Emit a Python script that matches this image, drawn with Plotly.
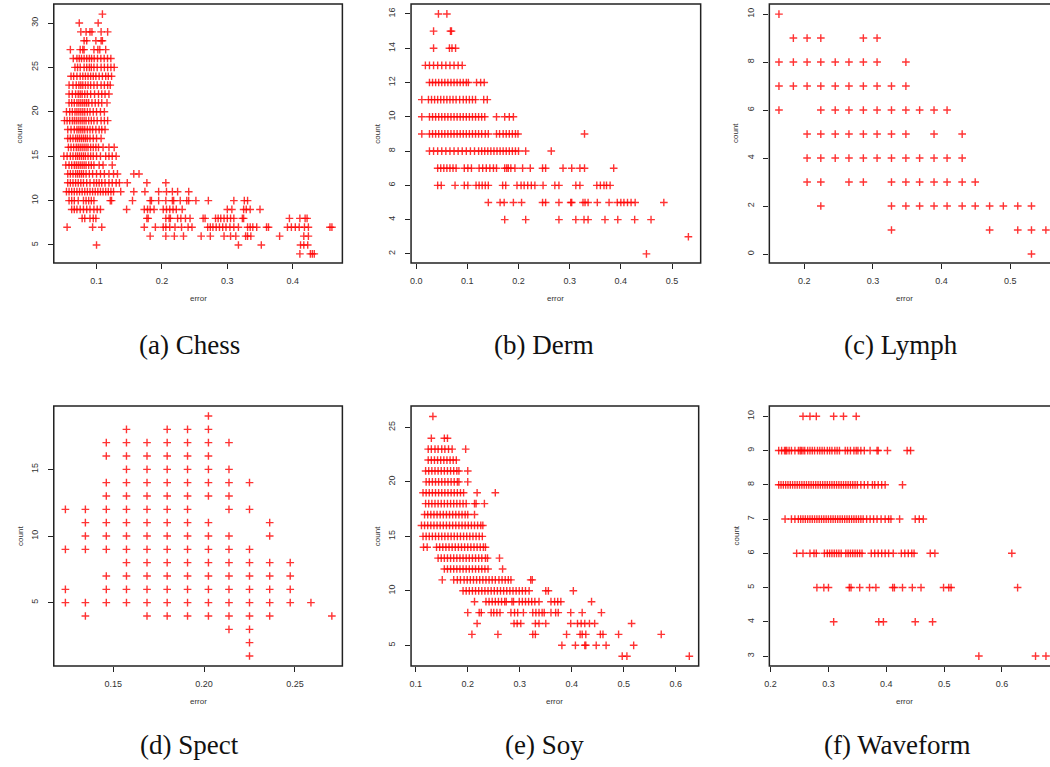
import plotly.graph_objects as go

W, H = 1050, 767

# ---------------- data ----------------
# (a) Chess: count -> list of error values
chess_rows = {
    31: [0.109],
    30: [0.0736, 0.1025],
    29: [0.076, 0.084, 0.090, 0.093, 0.107, 0.117],
    28: [0.081, 0.085, 0.099, 0.107, 0.109],
    27: [0.060, 0.075, 0.079, 0.081, 0.096, 0.102, 0.105, 0.114],
    26: [0.0644, 0.070, 0.0736, 0.077, 0.081, 0.085, 0.089, 0.0924, 0.0964, 0.1015, 0.1066, 0.1117, 0.1168, 0.1219],
    25: [0.067, 0.071, 0.075, 0.081, 0.085, 0.089, 0.092, 0.096, 0.101, 0.107, 0.112, 0.117, 0.122, 0.127],
    24: [0.061, 0.065, 0.070, 0.075, 0.079, 0.083, 0.087, 0.091, 0.095, 0.099, 0.104, 0.109, 0.114, 0.118, 0.123],
    23: [0.058, 0.064, 0.069, 0.073, 0.076, 0.079, 0.083, 0.087, 0.091, 0.096, 0.101, 0.107, 0.112, 0.117, 0.121],
    22: [0.058, 0.063, 0.068, 0.072, 0.075, 0.078, 0.082, 0.086, 0.091, 0.097, 0.103, 0.108, 0.113, 0.119],
    21: [0.058, 0.062, 0.066, 0.070, 0.073, 0.076, 0.079, 0.082, 0.085, 0.088, 0.093, 0.098, 0.103, 0.108, 0.116],
    20: [0.054, 0.059, 0.063, 0.067, 0.070, 0.073, 0.076, 0.079, 0.082, 0.086, 0.090, 0.095, 0.100, 0.106, 0.112],
    19: [0.051, 0.055, 0.059, 0.063, 0.066, 0.069, 0.072, 0.075, 0.078, 0.081, 0.084, 0.088, 0.092, 0.096, 0.101, 0.107, 0.112, 0.117],
    18: [0.056, 0.061, 0.066, 0.070, 0.073, 0.076, 0.079, 0.082, 0.086, 0.090, 0.094, 0.099, 0.104, 0.108, 0.113],
    17: [0.056, 0.060, 0.064, 0.068, 0.071, 0.074, 0.077, 0.080, 0.083, 0.086, 0.090, 0.095, 0.100, 0.107],
    16: [0.057, 0.061, 0.065, 0.069, 0.072, 0.075, 0.078, 0.081, 0.084, 0.087, 0.091, 0.095, 0.099, 0.103, 0.110, 0.119, 0.127],
    15: [0.050, 0.055, 0.060, 0.064, 0.068, 0.071, 0.074, 0.077, 0.080, 0.083, 0.087, 0.091, 0.095, 0.100, 0.106, 0.114, 0.119, 0.124, 0.130],
    14: [0.053, 0.058, 0.062, 0.066, 0.069, 0.072, 0.075, 0.078, 0.081, 0.084, 0.088, 0.092, 0.096, 0.104, 0.110, 0.124],
    13: [0.056, 0.060, 0.064, 0.068, 0.071, 0.074, 0.077, 0.080, 0.084, 0.089, 0.094, 0.100, 0.106, 0.112, 0.119, 0.126, 0.132, 0.157, 0.165],
    12: [0.056, 0.060, 0.064, 0.068, 0.072, 0.076, 0.080, 0.085, 0.090, 0.096, 0.100, 0.104, 0.108, 0.113, 0.119, 0.124, 0.130, 0.135, 0.147, 0.177, 0.206],
    11: [0.054, 0.058, 0.062, 0.066, 0.070, 0.074, 0.078, 0.082, 0.086, 0.090, 0.094, 0.098, 0.102, 0.106, 0.110, 0.114, 0.118, 0.122, 0.126, 0.137,
         0.157, 0.174, 0.195, 0.207, 0.216, 0.224, 0.241],
    10: [0.058, 0.062, 0.066, 0.072, 0.080, 0.084, 0.088, 0.092, 0.096, 0.121, 0.123, 0.155, 0.182, 0.184, 0.195, 0.206, 0.216, 0.218,
         0.228, 0.238, 0.241, 0.252, 0.271, 0.310, 0.326, 0.331],
    9: [0.062, 0.066, 0.070, 0.075, 0.080, 0.085, 0.090, 0.096, 0.101, 0.106, 0.146, 0.173, 0.178, 0.182, 0.188, 0.202, 0.207, 0.212,
        0.217, 0.222, 0.231, 0.300, 0.307, 0.325, 0.329, 0.335, 0.350],
    8: [0.078, 0.082, 0.090, 0.095, 0.099, 0.177, 0.179, 0.206, 0.211, 0.213, 0.224, 0.229, 0.236, 0.243, 0.263, 0.266, 0.282, 0.286,
        0.290, 0.295, 0.300, 0.305, 0.310, 0.323, 0.325, 0.395, 0.411, 0.419, 0.422],
    7: [0.055, 0.094, 0.108, 0.173, 0.190, 0.202, 0.206, 0.212, 0.220, 0.230, 0.240, 0.246, 0.270, 0.274, 0.278, 0.283, 0.288, 0.293,
        0.298, 0.304, 0.310, 0.317, 0.331, 0.335, 0.339, 0.345, 0.360, 0.363, 0.392, 0.398, 0.404, 0.410, 0.418, 0.424, 0.457, 0.460],
    6: [0.182, 0.206, 0.219, 0.233, 0.260, 0.274, 0.295, 0.305, 0.313, 0.328, 0.331, 0.336, 0.380, 0.417, 0.424],
    5: [0.100, 0.317, 0.352, 0.412, 0.417, 0.423],
    4: [0.411, 0.427, 0.430, 0.433],
}

# (b) Derm
derm_rows = {
    16: [0.0435, 0.060],
    15: [0.034, 0.067, 0.069],
    14: [0.034, 0.065, 0.070, 0.077],
    13: [0.018, 0.026, 0.034, 0.042, 0.050, 0.058, 0.066, 0.074, 0.082, 0.090],
    12: [0.026, 0.032, 0.038, 0.044, 0.050, 0.056, 0.062, 0.068, 0.074, 0.080, 0.086, 0.092, 0.098, 0.102, 0.118, 0.126, 0.133],
    11: [0.011, 0.024, 0.030, 0.036, 0.042, 0.048, 0.054, 0.060, 0.066, 0.072, 0.078, 0.085, 0.092, 0.098, 0.104, 0.110, 0.116, 0.132, 0.139],
    10: [0.011, 0.026, 0.032, 0.038, 0.044, 0.050, 0.056, 0.062, 0.068, 0.074, 0.080, 0.086, 0.092, 0.098, 0.104, 0.110, 0.116, 0.122,
         0.128, 0.134, 0.157, 0.173, 0.182, 0.190],
    9: [0.011, 0.026, 0.032, 0.038, 0.044, 0.050, 0.056, 0.062, 0.068, 0.074, 0.080, 0.086, 0.092, 0.098, 0.104, 0.110, 0.116, 0.122,
        0.128, 0.135, 0.141, 0.157, 0.163, 0.170, 0.176, 0.182, 0.188, 0.194, 0.199, 0.329],
    8: [0.026, 0.034, 0.042, 0.050, 0.058, 0.066, 0.074, 0.082, 0.090, 0.098, 0.106, 0.114, 0.122, 0.128, 0.134, 0.140, 0.146, 0.152,
        0.158, 0.164, 0.170, 0.176, 0.182, 0.188, 0.194, 0.200, 0.214, 0.264],
    7: [0.042, 0.048, 0.054, 0.060, 0.066, 0.072, 0.078, 0.094, 0.101, 0.108, 0.123, 0.130, 0.137, 0.144, 0.151, 0.157, 0.173, 0.177,
        0.180, 0.185, 0.193, 0.208, 0.223, 0.247, 0.253, 0.287, 0.304, 0.320, 0.329, 0.386],
    6: [0.042, 0.049, 0.076, 0.094, 0.101, 0.117, 0.123, 0.129, 0.135, 0.141, 0.169, 0.175, 0.197, 0.205, 0.211, 0.218, 0.225, 0.232,
        0.248, 0.271, 0.279, 0.312, 0.320, 0.353, 0.360, 0.367, 0.372, 0.379],
    5: [0.141, 0.164, 0.172, 0.190, 0.206, 0.247, 0.253, 0.279, 0.302, 0.304, 0.326, 0.330, 0.336, 0.354, 0.377, 0.393, 0.400, 0.406,
        0.413, 0.420, 0.428, 0.484],
    4: [0.173, 0.214, 0.279, 0.312, 0.328, 0.336, 0.369, 0.394, 0.427, 0.459],
    3: [0.532],
    2: [0.450],
}

# (c) Lymph
lymph_rows = {
    10: [0.163],
    9: [0.184, 0.204, 0.224, 0.286, 0.306],
    8: [0.163, 0.184, 0.204, 0.224, 0.245, 0.265, 0.286, 0.306, 0.348],
    7: [0.163, 0.184, 0.204, 0.224, 0.245, 0.265, 0.286, 0.306, 0.327, 0.348],
    6: [0.163, 0.224, 0.245, 0.265, 0.286, 0.306, 0.327, 0.348, 0.368, 0.389, 0.408],
    5: [0.204, 0.224, 0.245, 0.265, 0.286, 0.306, 0.327, 0.348, 0.389, 0.430],
    4: [0.204, 0.224, 0.245, 0.265, 0.286, 0.306, 0.327, 0.348, 0.368, 0.389, 0.408, 0.430],
    3: [0.204, 0.224, 0.265, 0.286, 0.327, 0.348, 0.368, 0.389, 0.408, 0.430, 0.449],
    2: [0.224, 0.327, 0.348, 0.368, 0.389, 0.408, 0.430, 0.449, 0.470, 0.490, 0.511, 0.531],
    1: [0.327, 0.470, 0.511, 0.531, 0.552],
    0: [0.531],
}

# (d) Spect: error value -> list of counts
spect_cols = {
    0.1237: [12, 9, 6, 5],
    0.1347: [12, 11, 10, 9, 5, 4],
    0.1462: [17, 16, 14, 13, 12, 11, 10, 9, 7, 6, 5],
    0.1573: [18, 17, 16, 15, 14, 13, 12, 11, 10, 9, 8, 7, 6, 5],
    0.1686: [17, 16, 15, 14, 13, 12, 11, 10, 9, 8, 7, 6, 5, 4],
    0.1797: [18, 17, 16, 15, 14, 13, 12, 11, 10, 9, 8, 7, 6, 5, 4],
    0.1909: [18, 17, 16, 15, 14, 13, 12, 11, 10, 9, 8, 7, 6, 5, 4],
    0.2024: [19, 18, 17, 16, 15, 14, 13, 11, 10, 9, 8, 7, 6, 5, 4],
    0.2137: [17, 15, 14, 13, 12, 10, 9, 8, 7, 6, 5, 4, 3],
    0.2250: [14, 12, 9, 8, 7, 6, 5, 4, 3, 2, 1],
    0.2361: [11, 10, 8, 7, 6, 5, 4],
    0.2474: [8, 7, 6, 5],
    0.2588: [5],
    0.2703: [4],
}

# (e) Soy
soy_rows = {
    26: [0.133],
    24: [0.130, 0.155, 0.161],
    23: [0.124, 0.130, 0.137, 0.143, 0.150, 0.156, 0.163, 0.170, 0.196],
    22: [0.124, 0.130, 0.136, 0.142, 0.148, 0.154, 0.160, 0.166, 0.172, 0.178],
    21: [0.119, 0.125, 0.131, 0.137, 0.143, 0.149, 0.155, 0.161, 0.167, 0.173, 0.179, 0.183, 0.200],
    20: [0.120, 0.126, 0.132, 0.138, 0.144, 0.150, 0.156, 0.162, 0.168, 0.174, 0.180, 0.183, 0.200],
    19: [0.114, 0.120, 0.126, 0.132, 0.138, 0.144, 0.150, 0.156, 0.162, 0.168, 0.174, 0.180, 0.186, 0.192, 0.218, 0.253],
    18: [0.119, 0.125, 0.131, 0.137, 0.143, 0.149, 0.155, 0.161, 0.167, 0.173, 0.179, 0.185, 0.191, 0.197, 0.213, 0.216, 0.232],
    17: [0.117, 0.123, 0.129, 0.135, 0.141, 0.147, 0.153, 0.159, 0.165, 0.171, 0.177, 0.183, 0.189, 0.195, 0.200, 0.213],
    16: [0.111, 0.117, 0.123, 0.129, 0.135, 0.141, 0.147, 0.153, 0.159, 0.165, 0.171, 0.177, 0.183, 0.189, 0.195, 0.201, 0.207, 0.213,
         0.219, 0.225, 0.229],
    15: [0.114, 0.120, 0.126, 0.132, 0.138, 0.144, 0.150, 0.156, 0.162, 0.168, 0.174, 0.180, 0.186, 0.192, 0.198, 0.204, 0.210, 0.216,
         0.222, 0.228],
    14: [0.115, 0.122, 0.140, 0.146, 0.152, 0.158, 0.164, 0.170, 0.176, 0.182, 0.188, 0.194, 0.200, 0.206, 0.212, 0.218, 0.224, 0.230, 0.234],
    13: [0.143, 0.149, 0.155, 0.161, 0.167, 0.173, 0.179, 0.185, 0.191, 0.197, 0.203, 0.209, 0.215, 0.221, 0.227, 0.234, 0.238, 0.261],
    12: [0.155, 0.161, 0.167, 0.173, 0.179, 0.185, 0.191, 0.197, 0.203, 0.209, 0.215, 0.221, 0.227, 0.233, 0.239, 0.267],
    11: [0.151, 0.173, 0.180, 0.186, 0.193, 0.199, 0.205, 0.211, 0.217, 0.223, 0.229, 0.235, 0.241, 0.247, 0.253, 0.260, 0.266, 0.272,
         0.278, 0.283, 0.321, 0.324],
    10: [0.191, 0.197, 0.203, 0.209, 0.215, 0.221, 0.227, 0.233, 0.239, 0.245, 0.251, 0.257, 0.263, 0.269, 0.275, 0.281, 0.287, 0.293,
         0.299, 0.305, 0.311, 0.318, 0.350, 0.355, 0.403],
    9: [0.213, 0.235, 0.241, 0.247, 0.253, 0.259, 0.265, 0.271, 0.274, 0.285, 0.288, 0.299, 0.305, 0.311, 0.317, 0.323, 0.329, 0.337,
        0.360, 0.367, 0.373, 0.379, 0.438],
    8: [0.200, 0.222, 0.226, 0.245, 0.250, 0.256, 0.262, 0.283, 0.290, 0.296, 0.307, 0.325, 0.331, 0.337, 0.343, 0.347, 0.360, 0.369,
        0.374, 0.398, 0.420, 0.457],
    7: [0.218, 0.289, 0.295, 0.302, 0.330, 0.337, 0.350, 0.398, 0.411, 0.418, 0.425, 0.434, 0.444, 0.515],
    6: [0.208, 0.258, 0.325, 0.330, 0.390, 0.416, 0.420, 0.427, 0.455, 0.460, 0.490, 0.572],
    5: [0.381, 0.407, 0.425, 0.427, 0.447, 0.466, 0.519],
    4: [0.497, 0.506, 0.626],
}

# (f) Waveform
wave_rows = {
    10: [0.256, 0.268, 0.279, 0.309, 0.326, 0.348],
    9: [0.214, 0.219, 0.224, 0.226, 0.228, 0.232, 0.236, 0.242, 0.248, 0.251, 0.253, 0.256, 0.259, 0.264, 0.268, 0.272, 0.276, 0.281,
        0.285, 0.289, 0.293, 0.298, 0.302, 0.306, 0.311, 0.315, 0.319, 0.329, 0.333, 0.338, 0.344, 0.348, 0.351, 0.356, 0.362, 0.372,
        0.384, 0.386, 0.402, 0.436, 0.442],
    8: [0.214, 0.218, 0.222, 0.226, 0.230, 0.234, 0.238, 0.242, 0.246, 0.250, 0.254, 0.258, 0.262, 0.266, 0.270, 0.274, 0.278, 0.282,
        0.286, 0.290, 0.294, 0.298, 0.302, 0.306, 0.310, 0.314, 0.318, 0.322, 0.326, 0.330, 0.334, 0.338, 0.342, 0.346, 0.350, 0.356,
        0.362, 0.368, 0.376, 0.380, 0.386, 0.392, 0.398, 0.428],
    7: [0.225, 0.236, 0.242, 0.248, 0.252, 0.256, 0.260, 0.264, 0.268, 0.272, 0.276, 0.280, 0.284, 0.288, 0.292, 0.296, 0.300, 0.304,
        0.308, 0.312, 0.316, 0.320, 0.324, 0.328, 0.332, 0.336, 0.340, 0.344, 0.348, 0.352, 0.356, 0.360, 0.366, 0.372, 0.378, 0.384,
        0.391, 0.398, 0.404, 0.408, 0.423, 0.450, 0.457, 0.464],
    6: [0.245, 0.256, 0.268, 0.275, 0.279, 0.293, 0.298, 0.302, 0.306, 0.310, 0.314, 0.318, 0.322, 0.330, 0.334, 0.338, 0.342, 0.346,
        0.350, 0.354, 0.358, 0.374, 0.380, 0.386, 0.392, 0.398, 0.404, 0.412, 0.426, 0.432, 0.438, 0.444, 0.448, 0.476, 0.484, 0.617],
    5: [0.280, 0.292, 0.300, 0.336, 0.339, 0.354, 0.371, 0.382, 0.411, 0.414, 0.428, 0.445, 0.460, 0.499, 0.508, 0.512, 0.627],
    4: [0.309, 0.387, 0.395, 0.450, 0.480],
    3: [0.560, 0.658, 0.676],
}

captions = ["(a) Chess", "(b) Derm", "(c) Lymph", "(d) Spect", "(e) Soy", "(f) Waveform"]

# tick values / labels
x_ticks = [
    ([0.1, 0.2, 0.3, 0.4], ["0.1", "0.2", "0.3", "0.4"]),
    ([0.0, 0.1, 0.2, 0.3, 0.4, 0.5], ["0.0", "0.1", "0.2", "0.3", "0.4", "0.5"]),
    ([0.2, 0.3, 0.4, 0.5], ["0.2", "0.3", "0.4", "0.5"]),
    ([0.15, 0.20, 0.25], ["0.15", "0.20", "0.25"]),
    ([0.1, 0.2, 0.3, 0.4, 0.5, 0.6], ["0.1", "0.2", "0.3", "0.4", "0.5", "0.6"]),
    ([0.2, 0.3, 0.4, 0.5, 0.6], ["0.2", "0.3", "0.4", "0.5", "0.6"]),
]
y_ticks = [
    [5, 10, 15, 20, 25, 30],
    [2, 4, 6, 8, 10, 12, 14, 16],
    [0, 2, 4, 6, 8, 10],
    [5, 10, 15],
    [5, 10, 15, 20, 25],
    [3, 4, 5, 6, 7, 8, 9, 10],
]

# ---------------- layout geometry (pixels) ----------------
boxes = [  # left, right, top, bottom
    (49, 339, 4, 263),
    (408, 699, 4, 263),
    (768, 1050, 4, 263),
    (49, 339, 406, 666),
    (408, 697, 406, 666),
    (768, 1050, 406, 666),
]
x_ranges = [(0.0346, 0.476), (-0.010, 0.556), (0.149, 0.558), (0.1173, 0.2761), (0.091, 0.644), (0.1978, 0.683)]
y_ranges = [(2.97, 32.14), (1.47, 16.58), (-0.375, 10.42), (0.25, 19.75), (3.10, 26.96), (2.71, 10.30)]
cut_right = [False, False, True, False, False, True]


def rows_to_xy(rows):
    xs, ys = [], []
    for yv, xl in rows.items():
        for xv in xl:
            xs.append(xv)
            ys.append(yv)
    return xs, ys


def cols_to_xy(cols):
    xs, ys = [], []
    for xv, yl in cols.items():
        for yv in yl:
            xs.append(xv)
            ys.append(yv)
    return xs, ys


panels = [rows_to_xy(chess_rows), rows_to_xy(derm_rows), rows_to_xy(lymph_rows),
          cols_to_xy(spect_cols), rows_to_xy(soy_rows), rows_to_xy(wave_rows)]


def px(x):
    return x / W


def py(y):
    return 1 - y / H


fig = go.Figure()
shapes = []
annotations = []
tick_font = dict(family="Liberation Sans, Arial, sans-serif", size=9, color="#333333")
lab_font = dict(family="Liberation Sans, Arial, sans-serif", size=8, color="#333333")

for i, (xs, ys) in enumerate(panels):
    k = "" if i == 0 else str(i + 1)
    fig.add_trace(go.Scatter(
        x=xs, y=ys, mode="markers", xaxis="x" + k, yaxis="y" + k,
        marker=dict(symbol="cross-thin", size=5.5, color="rgba(255,0,0,0.8)",
                    line=dict(color="rgba(255,0,0,0.8)", width=1.4)),
        showlegend=False, hoverinfo="x+y"))
    l, r, t, b = boxes[i]
    fig.layout["xaxis" + k] = dict(
        domain=[px(l), px(r)], range=list(x_ranges[i]), anchor="y" + k,
        tickmode="array", tickvals=x_ticks[i][0], ticktext=x_ticks[i][1],
        ticks="outside", ticklen=5, tickwidth=1, tickcolor="#222222", ticklabelstandoff=4,
        showgrid=False, zeroline=False, showline=False, tickfont=tick_font, fixedrange=True)
    fig.layout["yaxis" + k] = dict(
        domain=[py(b), py(t)], range=list(y_ranges[i]), anchor="x" + k,
        tickmode="array", tickvals=y_ticks[i], tickangle=-90,
        ticks="outside", ticklen=5, tickwidth=1, tickcolor="#222222", ticklabelstandoff=6,
        showgrid=False, zeroline=False, showline=False, tickfont=tick_font, fixedrange=True)
    # box
    rr = r + 10 if cut_right[i] else r
    shapes.append(dict(type="rect", xref="paper", yref="paper",
                       x0=px(l), x1=px(rr), y0=py(b), y1=py(t),
                       line=dict(color="#222222", width=1.5), fillcolor="rgba(0,0,0,0)"))
    # axis titles
    mid_x = (l + r) / 2 if not cut_right[i] else (l + 1040) / 2
    annotations.append(dict(text="error", xref="paper", yref="paper", x=px(mid_x), y=py(b + 35),
                            showarrow=False, font=lab_font, xanchor="center", yanchor="middle"))
    annotations.append(dict(text="count", xref="paper", yref="paper", x=px(l - 34), y=py((t + b) / 2),
                            showarrow=False, font=lab_font, textangle=-90, xanchor="center", yanchor="middle"))

cap_pos = [(185, 345), (542, 345), (900, 345), (185, 745), (542, 745), (897, 745)]
for (cxp, cyp), txt in zip(cap_pos, captions):
    annotations.append(dict(text=txt, xref="paper", yref="paper", x=px(cxp), y=py(cyp),
                            showarrow=False, xanchor="center", yanchor="middle",
                            font=dict(family="Liberation Serif, Times New Roman, serif", size=27, color="#111111")))

fig.update_layout(width=W, height=H, margin=dict(l=0, r=0, t=0, b=0),
                  paper_bgcolor="white", plot_bgcolor="white",
                  shapes=shapes, annotations=annotations)

fig.write_html("out.html")
